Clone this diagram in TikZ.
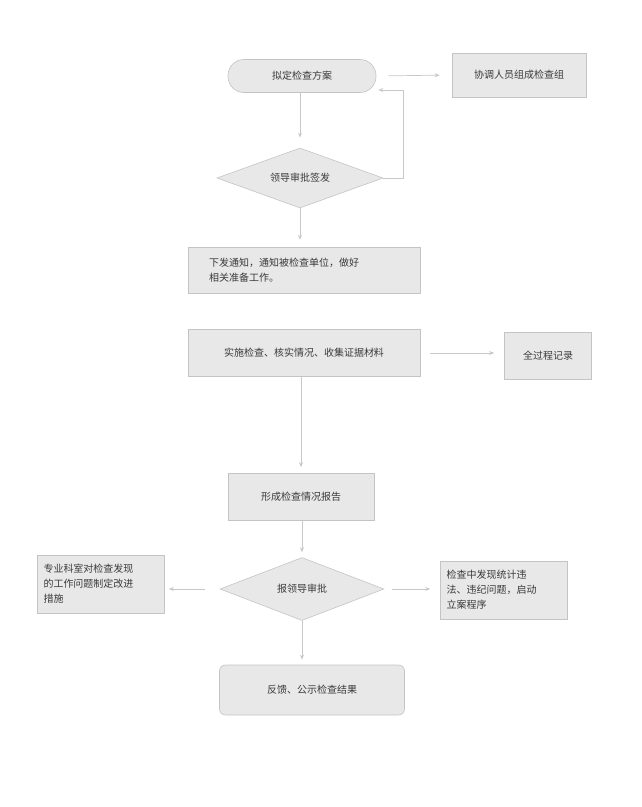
\documentclass[tikz,border=0pt]{standalone}
\usepackage{fontspec}
\setmainfont{Noto Sans CJK SC}
\usetikzlibrary{shapes.geometric,arrows.meta}
\definecolor{fillg}{HTML}{E8E8E8}
\definecolor{lineg}{HTML}{C4C4C4}
\definecolor{arrg}{HTML}{C8C8C8}
\definecolor{txt}{HTML}{3A3A3A}
\begin{document}
\begin{tikzpicture}[x=1pt,y=-1pt,
  base/.style={draw=lineg,fill=fillg,text=txt,font=\fontsize{10}{15}\selectfont,line width=0.6pt,inner sep=2pt},
  boxn/.style={base,rectangle},
  dia/.style={base,diamond,aspect=2.7},
  arr/.style={draw=arrg,line width=0.7pt,-{Stealth[length=5pt,width=4pt]}}]
\useasboundingbox (0,0) rectangle (641,807);
\node[base,rounded corners=16pt,minimum width=148pt,minimum height=33pt] (a) at (302,76) {拟定检查方案};
\node[boxn,minimum width=134pt,minimum height=44pt] (b) at (519,75) {协调人员组成检查组};
\node[dia,minimum width=166pt,minimum height=60pt] (c) at (300,178) {领导审批签发};
\node[boxn,minimum width=232pt,minimum height=46pt,align=left,text width=190pt] (d) at (304,270) {下发通知，通知被检查单位，做好\\相关准备工作。};
\node[boxn,minimum width=232pt,minimum height=47pt] (e) at (304,353) {实施检查、核实情况、收集证据材料};
\node[boxn,minimum width=87pt,minimum height=47pt] (f) at (548,356) {全过程记录};
\node[boxn,minimum width=146pt,minimum height=47pt] (g) at (301,497) {形成检查情况报告};
\node[dia,minimum width=164pt,minimum height=63pt] (h) at (302,589) {报领导审批};
\node[boxn,minimum width=127pt,minimum height=58pt,align=left,text width=115pt] (i) at (101,584) {专业科室对检查发现\\的工作问题制定改进\\措施};
\node[boxn,minimum width=127pt,minimum height=58pt,align=left,text width=115pt] (j) at (504,590) {检查中发现统计违\\法、违纪问题，启动\\立案程序};
\node[base,rounded corners=6pt,minimum width=185pt,minimum height=50pt] (k) at (312,690) {反馈、公示检查结果};
\draw[arr,shorten <=12pt,shorten >=12pt] (a.east) -- (b.west);
\draw[arr] (a.south -| c.north) -- ([yshift=10pt]c.north);
\draw[arr] (c.east) -- ++(20,0) |- ([xshift=2pt,yshift=-14pt]a.east);
\draw[arr] (c.south) -- ([yshift=7pt]d.north -| c.south);
\draw[arr,shorten <=10pt,shorten >=10pt] (e.east) -- (e.east -| f.west);
\draw[arr] (e.south -| g.north) -- ([yshift=6pt]g.north);
\draw[arr] (g.south -| h.north) -- ([yshift=5pt]h.north);
\draw[arr,shorten <=15pt,shorten >=4pt] (h.west) -- (h.west -| i.east);
\draw[arr,shorten <=8pt,shorten >=10pt] (h.east) -- (h.east -| j.west);
\draw[arr] (h.south) -- ([yshift=5pt]k.north -| h.south);
\end{tikzpicture}
\end{document}
